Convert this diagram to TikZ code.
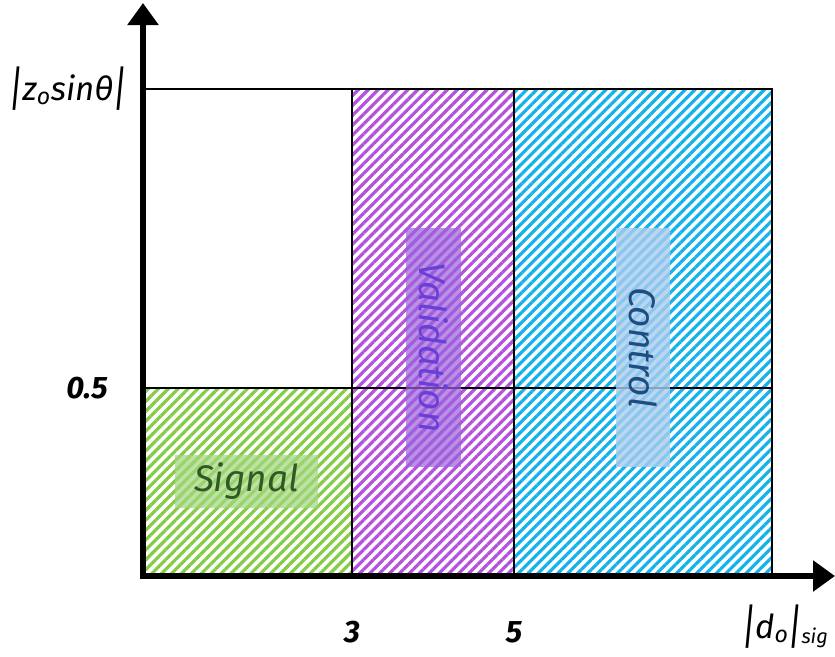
\documentclass[tikz,border=0pt]{standalone}
\usepackage{fontspec}
\setmainfont{Fira Sans}
\usetikzlibrary{patterns.meta,arrows.meta}
\definecolor{hgreen}{HTML}{84CC45}
\definecolor{hpurple}{HTML}{B452DE}
\definecolor{hcyan}{HTML}{14B2EC}
\definecolor{tgreen}{HTML}{2F5A23}
\definecolor{tpurple}{HTML}{6A3FD8}
\definecolor{tblue}{HTML}{1E4D80}
\definecolor{bgreen}{HTML}{A3D67E}
\definecolor{bpurple}{HTML}{9A62DC}
\definecolor{bblue}{HTML}{A9CCEE}
\tikzset{
  hatch/.style={pattern={Lines[angle=45,distance=7pt,line width=3.2pt]},pattern color=#1},
  region/.style={draw=black,line width=2pt},
  axis/.style={line width=6pt,-{Triangle[length=22pt,width=30pt]}},
  tag/.style={inner sep=0pt,font=\bfseries\itshape\fontsize{31}{33}\selectfont},
  lbl/.style={inner sep=0pt,font=\itshape\fontsize{33}{36}\selectfont},
  regname/.style={inner sep=0pt,font=\itshape\fontsize{37}{40}\selectfont},
  labbox/.style={inner sep=0pt,fill opacity=#1},
}
\newcommand{\bigbar}{\raisebox{-0.3ex}{\scalebox{1}[1.45]{|}}}
\begin{document}
\begin{tikzpicture}[x=1pt,y=-1pt]
\useasboundingbox (0,0) rectangle (835,656);
% hatched regions
\path[hatch=hgreen] (145,388) rectangle (352,573);
\path[hatch=hpurple] (352,89) rectangle (514,573);
\path[hatch=hcyan] (514,89) rectangle (772,573);
% grid lines
\draw[region] (145,89) -- (772,89) -- (772,573);
\draw[region] (145,388) -- (772,388);
\draw[region] (352,89) -- (352,573);
\draw[region] (514,89) -- (514,573);
% label boxes
\node[labbox=0.7,fill=bgreen,minimum width=143pt,minimum height=53pt] (sigbox) at (246.5,481.5) {};
\node[regname,text=tgreen] (sig) at (sigbox) {Signal};
\node[labbox=0.7,fill=bpurple,minimum width=55pt,minimum height=239pt] (valbox) at (433.5,347.5) {};
\node[regname,text=tpurple,rotate=-90] (val) at (valbox) {Validation};
\node[labbox=0.8,fill=bblue,minimum width=54pt,minimum height=239pt] (conbox) at (643,347.5) {};
\node[regname,text=tblue,rotate=-90] (con) at (conbox) {Control};
% axes
\coordinate (ytip) at (143,3);
\coordinate (xtip) at (835,576);
\draw[axis] (143,576) -- (ytip);
\draw[axis] (140,576) -- (xtip);
% tick labels
\node[tag] (t05) at (87,388) {0.5};
\node[tag] (t3) at (352,632) {3};
\node[tag] (t5) at (514,632) {5};
\node[lbl] (ylab) at (68,89) {\bigbar z\textsubscript{o}sinθ\bigbar};
\node[lbl] (xlab) at (785,627) {\bigbar d\textsubscript{o}\bigbar\raisebox{-0.3ex}{\fontsize{20}{22}\selectfont sig}};
\end{tikzpicture}
\end{document}
